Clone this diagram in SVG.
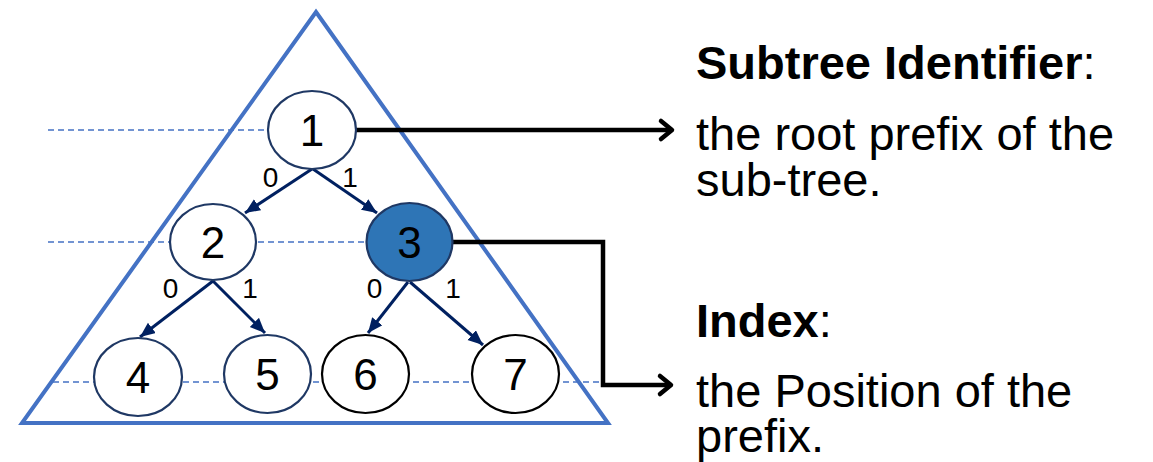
<svg xmlns="http://www.w3.org/2000/svg" width="1153" height="462" viewBox="0 0 1153 462">
  <style>
    .tri { fill: none; stroke: #4472C4; stroke-width: 4; stroke-linejoin: miter; }
    .dash { stroke: #4472C4; stroke-width: 1.5; stroke-dasharray: 6 4; fill: none; }
    .edge { stroke: #002060; stroke-width: 3; fill: none; marker-end: url(#ah); }
    .conn { stroke: #000; stroke-width: 4.5; fill: none; }
    .chev { stroke: #000; stroke-width: 4.5; fill: none; stroke-linecap: round; stroke-linejoin: round; }
    .node { fill: #fff; stroke: #1F3864; stroke-width: 2.2; }
    .nodeb { fill: #fff; stroke: #000; stroke-width: 2.2; }
    .sel { fill: #2E75B6; stroke: #1F3864; stroke-width: 2.2; }
    text { font-family: 'Liberation Sans', Arimo, Arial, Helvetica, sans-serif; fill: #000; }
    .num { font-size: 44px; text-anchor: middle; }
    .lbl { font-size: 28px; text-anchor: middle; }
    .txt { font-size: 47px; }
    .b { font-weight: bold; }
  </style>
  <defs>
    <marker id="ah" markerUnits="userSpaceOnUse" markerWidth="16" markerHeight="14" refX="15" refY="6.5" orient="auto">
      <path d="M0,0 L15,6.5 L0,13 z" fill="#002060"/>
    </marker>
  </defs>

  <polygon class="tri" points="316,12 608,423 22,423"/>

  <g id="guides">
    <line class="dash" x1="48" y1="130" x2="268" y2="130"/>
    <line class="dash" x1="48" y1="242" x2="366" y2="242"/>
    <line class="dash" x1="53" y1="382" x2="600" y2="382"/>
  </g>

  <g id="connectors">
    <line class="edge" x1="312" y1="169" x2="245" y2="213"/>
    <line class="edge" x1="313" y1="169" x2="377" y2="213"/>
    <line class="edge" x1="213" y1="281" x2="140" y2="337"/>
    <line class="edge" x1="213" y1="281" x2="265" y2="333"/>
    <line class="edge" x1="408" y1="282" x2="368" y2="333"/>
    <line class="edge" x1="410" y1="282" x2="483" y2="345"/>
    <polyline class="conn" points="356,130 672,130"/>
    <polyline class="chev" points="661,121 672,130 661,139"/>
    <polyline class="conn" points="452,242 603,242 603,385 670,385"/>
    <polyline class="chev" points="660,376 671,385 660,394"/>
  </g>

  <g id="edge-labels">
    <text class="lbl" x="270.5" y="187">0</text>
    <text class="lbl" x="350" y="187">1</text>
    <text class="lbl" x="170.5" y="298">0</text>
    <text class="lbl" x="250" y="298">1</text>
    <text class="lbl" x="374.5" y="298">0</text>
    <text class="lbl" x="453" y="298">1</text>
  </g>

  <g id="node1"><ellipse class="node" cx="312" cy="130" rx="44" ry="39"/><text class="num" x="312" y="146">1</text></g>
  <g id="node2"><ellipse class="node" cx="213" cy="242" rx="43" ry="38"/><text class="num" x="213" y="258">2</text></g>
  <g id="node3"><ellipse class="sel" cx="409.5" cy="242" rx="43" ry="39"/><text class="num" x="409.5" y="258">3</text></g>
  <g id="node4"><ellipse class="node" cx="138" cy="377" rx="44" ry="39"/><text class="num" x="138" y="393">4</text></g>
  <g id="node5"><ellipse class="node" cx="267.5" cy="374" rx="43.5" ry="39"/><text class="num" x="267.5" y="390">5</text></g>
  <g id="node6"><ellipse class="nodeb" cx="365.5" cy="374" rx="43.5" ry="39"/><text class="num" x="365.5" y="390">6</text></g>
  <g id="node7"><ellipse class="nodeb" cx="515.5" cy="374" rx="43.5" ry="39"/><text class="num" x="515.5" y="390">7</text></g>

  <g id="subtree-text">
    <text class="txt" x="696" y="79"><tspan class="b">Subtree Identifier</tspan>:</text>
    <text class="txt" x="696" y="150">the root prefix of the</text>
    <text class="txt" x="696" y="196">sub-tree.</text>
  </g>
  <g id="index-text">
    <text class="txt" x="696" y="337"><tspan class="b">Index</tspan>:</text>
    <text class="txt" x="696" y="407">the Position of the</text>
    <text class="txt" x="696" y="452">prefix.</text>
  </g>
</svg>
